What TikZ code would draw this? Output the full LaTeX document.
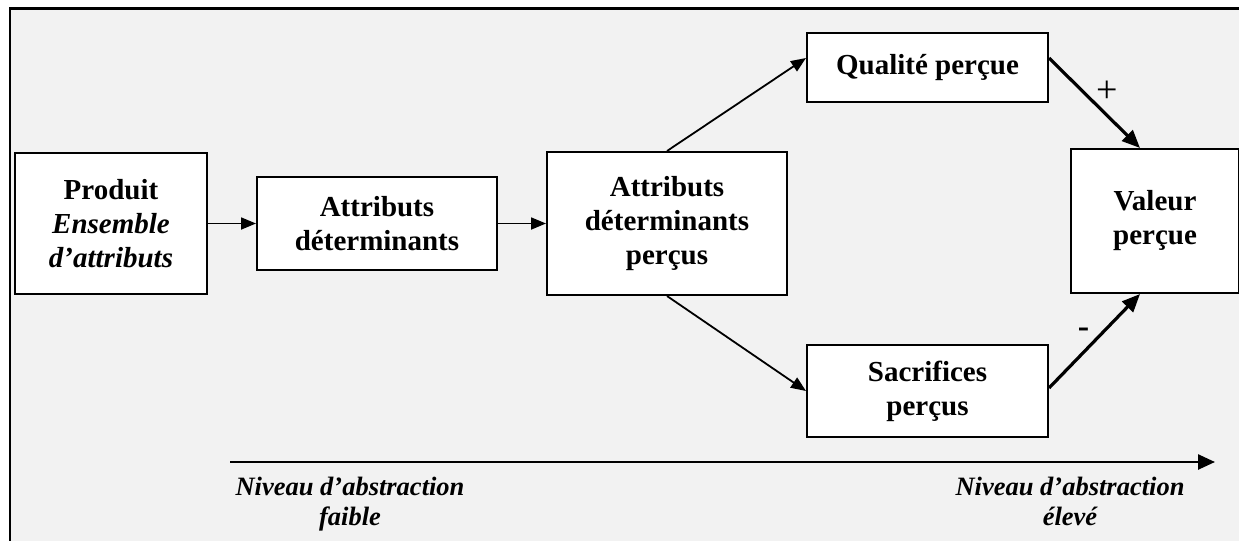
\documentclass[tikz,border=0pt]{standalone}
\usepackage{fontspec}
\setmainfont{Liberation Serif}
\usetikzlibrary{arrows.meta, positioning}
\definecolor{paneGray}{RGB}{242, 242, 242}
\tikzset{
    box/.style = {rectangle, draw, line width=2pt, fill=white, align=center, inner sep=0pt, font=\fontsize{29}{34}\selectfont\bfseries},
    link/.style = {line width=1.8pt, -{Triangle[length=15pt, width=12pt]}},
    strong/.style = {line width=3.2pt, -{Triangle[length=18pt, width=15pt]}},
    axis/.style = {line width=2.5pt, -{Triangle[length=17pt, width=15pt]}},
    sign/.style = {font=\fontsize{38}{44}\selectfont, inner sep=0pt},
    axislabel/.style = {font=\fontsize{26.5}{30}\selectfont\bfseries\itshape, align=center, inner sep=0pt, anchor=north}
}

\begin{document}
\begin{tikzpicture}[x=1pt, y=-1pt]
  \useasboundingbox (0,0) rectangle (1239,541);
  \fill[paneGray] (10,8.5) rectangle (1239,541);
  \draw[line width=2.5pt] (1239,8.5) -- (10,8.5) -- (10,541);

  \node[box, minimum width=192pt, minimum height=141pt] (produit) at (111,223.5) {Produit\\ \textit{Ensemble}\\ \textit{d’attributs}};
  \node[box, minimum width=240pt, minimum height=93pt, right=48pt of produit] (attributs) {Attributs\\ déterminants};
  \node[box, minimum width=240pt, minimum height=143pt, right=48pt of attributs] (percus) {Attributs\\ déterminants\\ perçus};
  \node[box, minimum width=241pt, minimum height=69pt] (qualite) at (927.5,67.5) {Qualité perçue};
  \node[box, minimum width=241pt, minimum height=92pt] (sacrifices) at (927.5,391) {Sacrifices\\ perçus};
  \node[box, minimum width=168pt, minimum height=144pt] (valeur) at (1155,221) {Valeur\\ perçue};

  \draw[link] (produit) -- (attributs);
  \draw[link] (attributs) -- (percus);
  \draw[link] (percus.north) -- ([yshift=9.5pt]qualite.west);
  \draw[link] (percus.south) -- (sacrifices.west);
  \draw[strong] ([yshift=9.5pt]qualite.east) -- node[sign, xshift=13pt, yshift=11.5pt] {+} ([xshift=-15pt]valeur.north);
  \draw[strong] ([yshift=3pt]sacrifices.east) -- node[sign, font=\fontsize{34}{40}\selectfont\bfseries, xshift=-11pt, yshift=8pt] {-} ([xshift=-15pt]valeur.south);

  \coordinate (low) at (230,462);
  \coordinate (high) at (1215,462);
  \draw[axis] (low) -- (high);
  \node[axislabel] (faible) at (350,477) {Niveau d’abstraction\\ faible};
  \node[axislabel] (eleve) at (1070,477) {Niveau d’abstraction\\ élevé};
\end{tikzpicture}
\end{document}
